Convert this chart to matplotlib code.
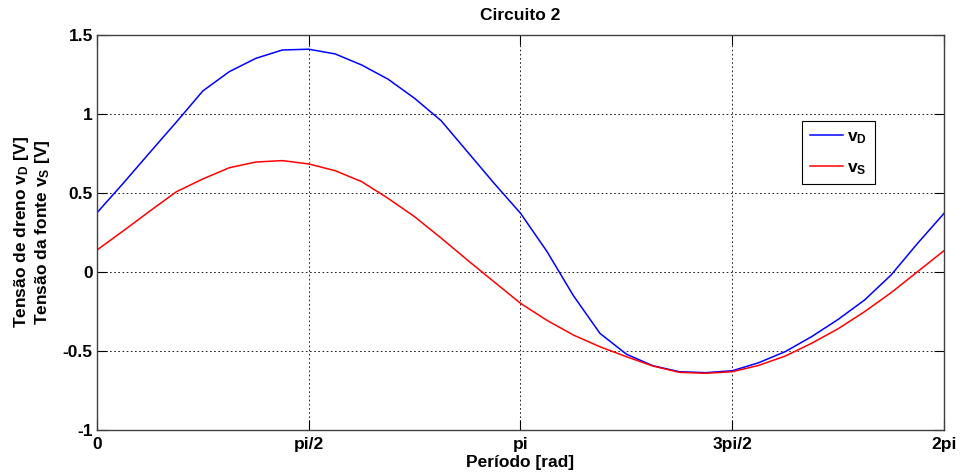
import numpy as np
import matplotlib.pyplot as plt

# sampled period, 32 intervals from 0 to 2pi
n_steps = 32
x_ticks_labels = ['0', 'pi/2', 'pi', '3pi/2', '2pi']
y_ticks = [-1, -0.5, 0, 0.5, 1, 1.5]

v_D = [0.375, 0.563, 0.757, 0.949, 1.146, 1.268, 1.352, 1.405, 1.410,
       1.380, 1.310, 1.220, 1.099, 0.958, 0.760, 0.562, 0.372,
       0.130, -0.150, -0.388, -0.520, -0.593, -0.631, -0.637, -0.625,
       -0.574, -0.504, -0.409, -0.300, -0.177, -0.019, 0.181, 0.371]
v_S = [0.139, 0.261, 0.386, 0.508, 0.589, 0.660, 0.696, 0.705, 0.684,
       0.641, 0.572, 0.466, 0.350, 0.215, 0.075, -0.062, -0.198,
       -0.306, -0.399, -0.473, -0.536, -0.595, -0.635, -0.641, -0.631,
       -0.591, -0.532, -0.451, -0.359, -0.251, -0.131, 0.002, 0.135]

plt.rcParams['font.family'] = ['Liberation Sans', 'DejaVu Sans']
plt.rcParams['font.weight'] = 'bold'
plt.rcParams['mathtext.fontset'] = 'custom'
plt.rcParams['mathtext.rm'] = 'Liberation Sans:bold'
plt.rcParams['mathtext.it'] = 'Liberation Sans:bold'
plt.rcParams['mathtext.default'] = 'rm'

t = np.linspace(0, 2*np.pi, n_steps+1)
fs = 12.5

fig = plt.figure(figsize=(9.62, 4.76), dpi=100)
ax = fig.add_axes([0.1008, 0.0966, 0.8805, 0.8299])
ax.plot(t, v_D, color='blue', linewidth=1.1, label='$v_D$')
ax.plot(t, v_S, color='red', linewidth=1.1, label='$v_S$')

ax.set_xlim(0, 2*np.pi)
ax.set_ylim(-1, 1.5)
ax.set_xticks(np.linspace(0, 2*np.pi, 5))
ax.set_xticklabels(x_ticks_labels)
ax.set_yticks(y_ticks)
ax.set_yticklabels(['-1', '-0.5', '0', '0.5', '1', '1.5'])
ax.tick_params(direction='in', length=7, width=0.8, top=True, right=True,
               labelsize=fs, pad=3)
ax.tick_params(axis='x', pad=5)
for s in ax.spines.values():
    s.set_color('#404040')
    s.set_linewidth(1.0)
ax.grid(True, linestyle=(0, (2, 3)), color='black', linewidth=0.6)

ax.set_title('Circuito 2', fontsize=fs, fontweight='bold', pad=11)
ax.set_xlabel('Período [rad]', fontsize=fs, fontweight='bold', labelpad=2)
ax.set_ylabel('Tensão de dreno $v_D$ [V]\nTensão da fonte $v_S$ [V]',
              fontsize=fs, fontweight='bold', labelpad=8, linespacing=1.1)

leg = ax.legend(loc='upper left', bbox_to_anchor=(0.832, 0.782),
                borderaxespad=0, fancybox=False, framealpha=1,
                edgecolor='black', fontsize=fs, handlelength=1.9,
                handletextpad=0.25, borderpad=0.45, labelspacing=0.8)
leg.get_frame().set_linewidth(0.8)

fig.savefig('out.png', dpi=100)
